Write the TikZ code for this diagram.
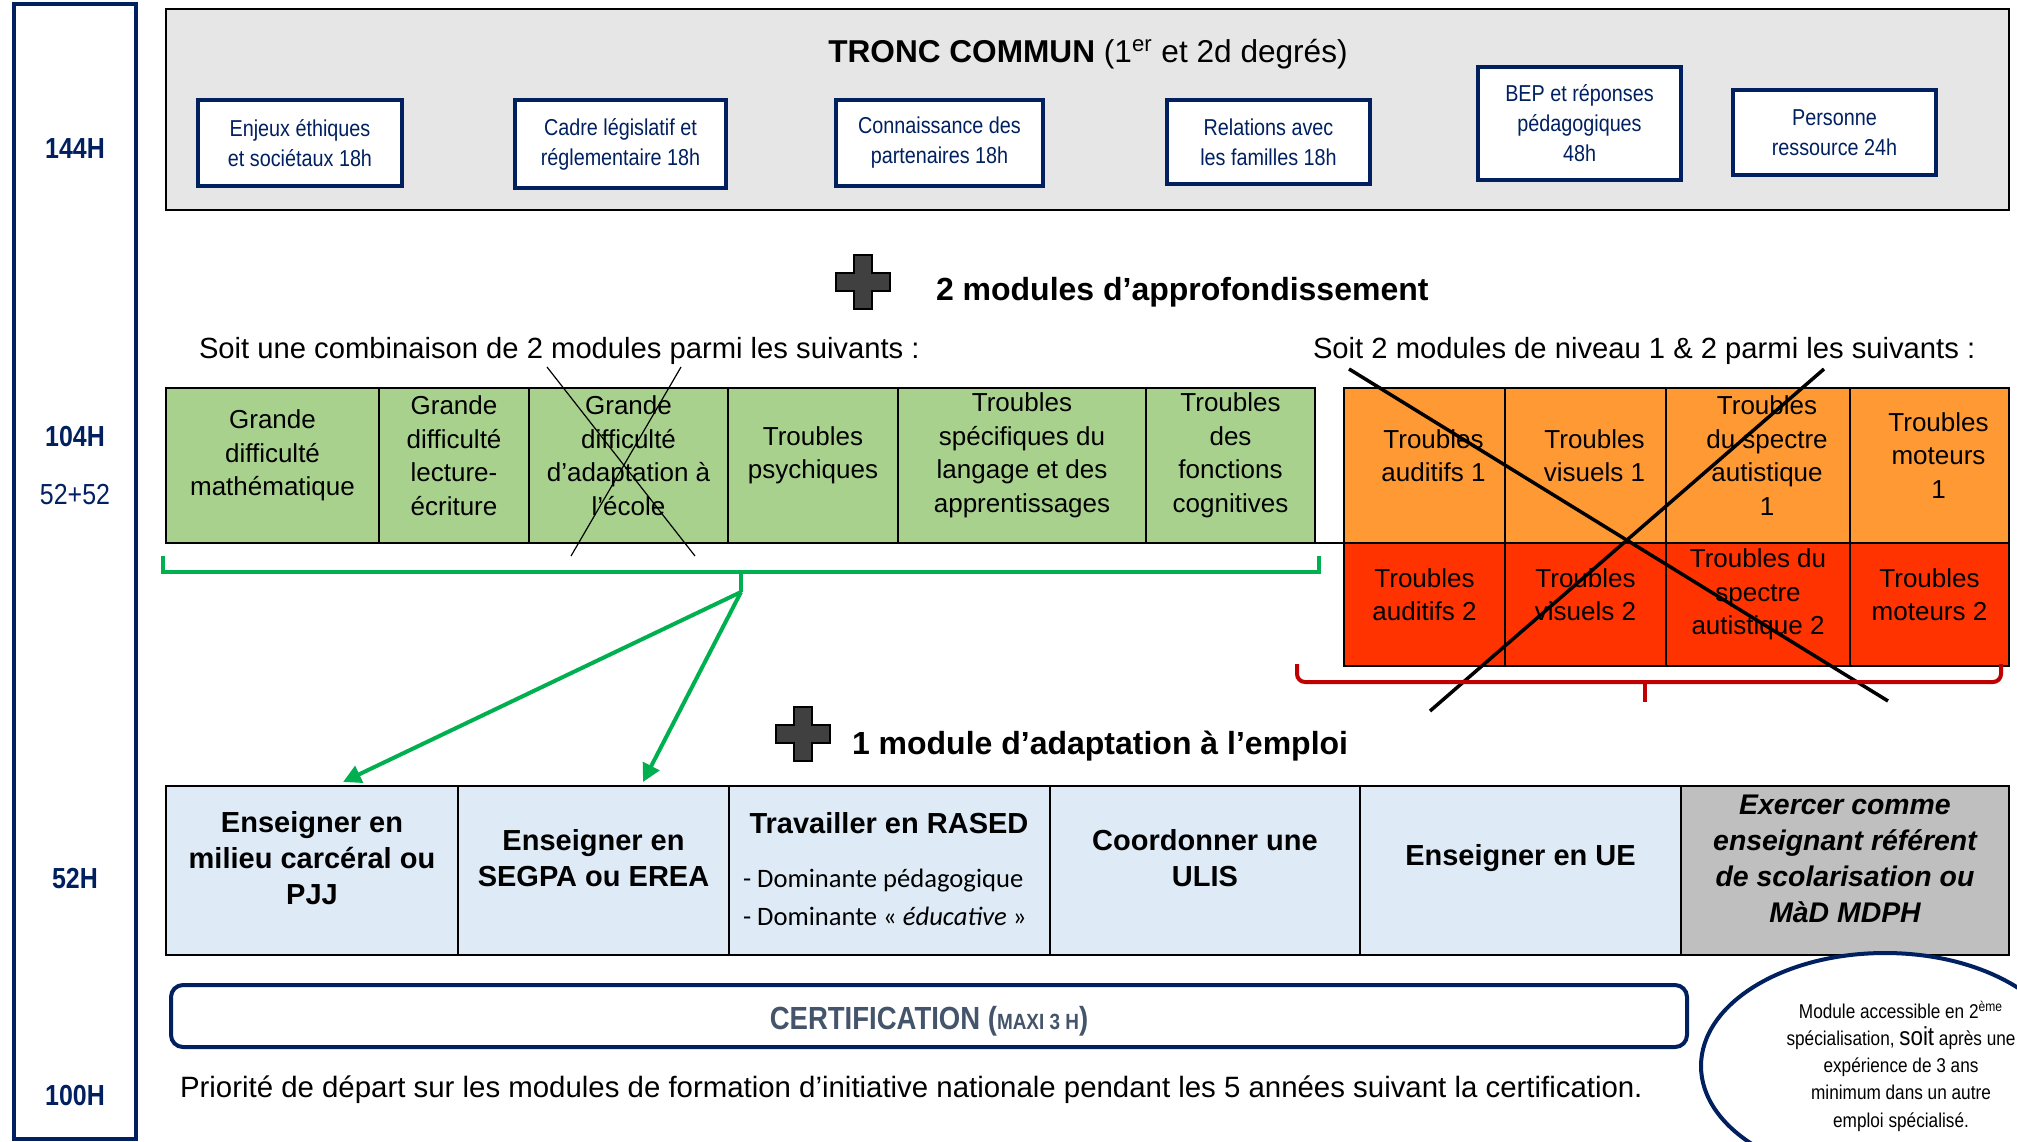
\documentclass[tikz,border=0pt]{standalone}
\usepackage{fontspec}
\setmainfont{Liberation Sans}
\newfontfamily\narrowf[FakeStretch=0.86]{Liberation Sans}
\newfontfamily\calib{Carlito}
\usetikzlibrary{arrows.meta,shapes.geometric}
\definecolor{navy}{RGB}{0,32,96}
\definecolor{tcgrey}{RGB}{230,230,230}
\definecolor{gfill}{RGB}{169,209,142}
\definecolor{ofill}{RGB}{255,153,51}
\definecolor{rfill}{RGB}{255,51,0}
\definecolor{gline}{RGB}{0,176,80}
\definecolor{dred}{RGB}{192,0,0}
\definecolor{bfill}{RGB}{222,235,247}
\definecolor{cgrey}{RGB}{191,191,191}
\definecolor{slate}{RGB}{68,84,106}
\definecolor{pgrey}{RGB}{64,64,64}
\newcommand\fsz[2]{\fontsize{#1}{#2}\selectfont}
% name x1 y1 x2 y2 styleprefix text dy dx
\newcommand\cell[9]{%
 \node[#6cell, minimum width={(#4-#2)*0.5pt}, minimum height={(#5-#3)*0.5pt}] (#1) at ({(#2+#4)/2},{(#3+#5)/2}) {};
 \node[#6text] (#1t) at ([yshift={-(#8)*0.5pt},xshift={(#9)*0.5pt}]#1.center) {#7};}
\tikzset{
 base/.style={inner sep=0pt, outer sep=0pt},
 topcell/.style={base, draw=navy, fill=white, line width=1.75pt},
 toptext/.style={base, align=center, text=navy, font=\narrowf\fsz{11.5pt}{15pt}},
 gcell/.style={base, draw=black, fill=gfill, line width=0.75pt},
 gtext/.style={base, align=center, font=\fsz{13pt}{16.75pt}},
 ocell/.style={base, draw=black, fill=ofill, line width=0.75pt},
 otext/.style={gtext},
 rcell/.style={base, draw=black, fill=rfill, line width=0.75pt},
 rtext/.style={gtext},
 bcell/.style={base, draw=black, fill=bfill, line width=0.75pt},
 btext/.style={base, align=center, font=\bfseries\fsz{14.5pt}{18pt}},
 kcell/.style={base, draw=black, fill=cgrey, line width=0.75pt},
 ktext/.style={base, align=center, font=\bfseries\itshape\fsz{14.2pt}{18pt}},
 hlabel/.style={base, text=navy, font=\narrowf\bfseries\fsz{14.5pt}{17pt}},
 plusshape/.style={fill=pgrey, draw=black, line width=0.8pt},
 greenline/.style={draw=gline, line width=2.25pt},
 garrow/.style={draw=gline, fill=gline, line width=2pt, -{Triangle[length=9pt,width=9pt]}},
 crossthin/.style={draw=black, line width=0.6pt},
 crossthick/.style={draw=black, line width=1.75pt},
}
\begin{document}
\begin{tikzpicture}[x=0.5pt,y=-0.5pt]
\useasboundingbox (0,0) rectangle (2017,1141);
\clip (0,0) rectangle (2017,1141);
\fill[white] (0,0) rectangle (2017,1141);

% left column
\node[base, draw=navy, line width=1.75pt, minimum width=61pt, minimum height=567.5pt] (leftcol) at (75,571.5) {};
\node[hlabel] (h144) at (75,149) {144H};
\node[hlabel] (h104) at (75,437) {104H};
\node[hlabel, font=\narrowf\fsz{14.5pt}{17pt}] (h5252) at (75,495) {52+52};
\node[hlabel] (h52) at (75,879) {52H};
\node[hlabel] (h100) at (75,1095) {100H};

% tronc commun
\node[base, draw=black, fill=tcgrey, line width=1.25pt, minimum width=921.5pt, minimum height=100.5pt] (tc) at (1087.5,109.5) {};
\node[base, font=\fsz{15.8pt}{18pt}] (tctitle) at (1088,54) {\textbf{TRONC COMMUN} (1\textsuperscript{er} et 2d degrés)};
\cell{t1}{198}{100}{402}{186}{top}{Enjeux éthiques\\et sociétaux 18h}{0}{0}
\cell{t2}{515}{100}{726}{188}{top}{Cadre législatif et\\réglementaire 18h}{0}{0}
\cell{t3}{836}{100}{1043}{186}{top}{Connaissance des\\partenaires 18h}{0}{0}
\cell{t4}{1167}{100}{1370}{184}{top}{Relations avec\\les familles 18h}{0}{0}
\cell{t5}{1478}{67}{1681}{180}{top}{BEP et réponses\\pédagogiques\\48h}{0}{0}
\cell{t6}{1733}{90}{1936}{175}{top}{Personne\\ressource 24h}{0}{0}

% plus 1 and heading
\draw[plusshape] (854,255) -- ++(18,0) -- ++(0,18) -- ++(18,0) -- ++(0,18) -- ++(-18,0) -- ++(0,18) -- ++(-18,0) -- ++(0,-18) -- ++(-18,0) -- ++(0,-18) -- ++(18,0) -- cycle;
\node[base, anchor=west, font=\bfseries\fsz{16pt}{19pt}] (h2) at (936,292) {2 modules d’approfondissement};
\node[base, anchor=west, font=\fsz{14.6pt}{17pt}] (soit1) at (199,351) {Soit une combinaison de 2 modules parmi les suivants :};
\node[base, anchor=west, font=\fsz{14.6pt}{17pt}] (soit2) at (1313,351) {Soit 2 modules de niveau 1 \& 2 parmi les suivants :};

% green table
\cell{g1}{166}{388}{379}{543}{g}{Grande\\difficulté\\mathématique}{-10}{0}
\cell{g2}{379}{388}{529}{543}{g}{Grande\\difficulté\\lecture-\\écriture}{-10}{0}
\cell{g3}{529}{388}{728}{543}{g}{Grande\\difficulté\\d’adaptation à\\l’école}{-10}{0}
\cell{g4}{728}{388}{898}{543}{g}{Troubles\\psychiques}{-10}{0}
\cell{g5}{898}{388}{1146}{543}{g}{Troubles\\spécifiques du\\langage et des\\apprentissages}{-10}{0}
\cell{g6}{1146}{388}{1315}{543}{g}{Troubles\\des\\fonctions\\cognitives}{-10}{0}
\draw[line width=1.25pt] (g1.north west) rectangle (g6.south east);
\draw[crossthin] (547,367) -- (695,556);
\draw[crossthin] (681,367) -- (571,556);

% orange / red table
\cell{o1}{1344}{388}{1505}{543}{o}{Troubles\\auditifs 1}{-10}{9}
\cell{o2}{1505}{388}{1666}{543}{o}{Troubles\\visuels 1}{-10}{9}
\cell{o3}{1666}{388}{1850}{543}{o}{Troubles\\du spectre\\autistique\\1}{-10}{9}
\cell{o4}{1850}{388}{2009}{543}{o}{Troubles\\moteurs\\1}{-10}{9}
\cell{r1}{1344}{543}{1505}{666}{r}{Troubles\\auditifs 2}{-10}{0}
\cell{r2}{1505}{543}{1666}{666}{r}{Troubles\\visuels 2}{-10}{0}
\cell{r3}{1666}{543}{1850}{666}{r}{Troubles du\\spectre\\autistique 2}{-10}{0}
\cell{r4}{1850}{543}{2009}{666}{r}{Troubles\\moteurs 2}{-10}{0}
\draw[line width=1.25pt] (o1.north west) rectangle (r4.south east);
\draw[line width=0.75pt] (g6.south east) -- (r1.north west);
\draw[crossthick] (1349,369) -- (1888,701);
\draw[crossthick] (1824,369) -- (1430,711);

% green bracket and arrows
\coordinate (gb1) at (163,556);
\coordinate (gb2) at (163,572);
\coordinate (gb3) at (1319,572);
\coordinate (gb4) at (1319,556);
\coordinate (gtop) at (741,572);
\coordinate (gtick) at (741,592);
\draw[greenline] (gb1) -- (gb2) -- (gb3) -- (gb4);
\draw[greenline] (gtop) -- (gtick);

% red bracket
\coordinate (rb1) at (1297,664);
\coordinate (rb2) at (1297,682);
\coordinate (rb3) at (2001,682);
\coordinate (rb4) at (2001,664);
\coordinate (rtop) at (1645,682);
\coordinate (rtick) at (1645,702);
\draw[dred, line width=2pt, rounded corners=4pt] (rb1) -- (rb2) -- (rb3) -- (rb4);
\draw[dred, line width=2pt] (rtop) -- (rtick);

% plus 2 and heading
\draw[plusshape] (794,707) -- ++(18,0) -- ++(0,18) -- ++(18,0) -- ++(0,18) -- ++(-18,0) -- ++(0,18) -- ++(-18,0) -- ++(0,-18) -- ++(-18,0) -- ++(0,-18) -- ++(18,0) -- cycle;
\node[base, anchor=west, font=\bfseries\fsz{16pt}{19pt}] (h3) at (852,746) {1 module d’adaptation à l’emploi};

% blue table
\cell{b1}{166}{786}{458}{955}{b}{Enseigner en\\milieu carcéral ou\\PJJ}{-12}{0}
\cell{b2}{458}{786}{729}{955}{b}{Enseigner en\\SEGPA ou EREA}{-12}{0}
\cell{b3}{729}{786}{1050}{955}{b}{}{0}{0}
\cell{b4}{1050}{786}{1360}{955}{b}{Coordonner une\\ULIS}{-12}{0}
\cell{b5}{1360}{786}{1681}{955}{b}{Enseigner en UE}{-12}{0}
\cell{b6}{1681}{786}{2009}{955}{k}{Exercer comme\\enseignant référent\\de scolarisation ou\\MàD MDPH}{-12}{0}
\draw[line width=1.25pt] (b1.north west) rectangle (b6.south east);
\node[base, font=\bfseries\fsz{14.5pt}{18pt}] (rased) at (889,823) {Travailler en RASED};
\node[base, anchor=west, font=\calib\fsz{13.3pt}{16pt}] (dom1) at (743,881) {- Dominante pédagogique};
\node[base, anchor=west, font=\calib\fsz{13.3pt}{16pt}] (dom2) at (743,916) {- Dominante «~\textit{éducative}~»};

\draw[garrow] (gtick) -- ([xshift=15.5pt,yshift=2pt]b1.north);
\draw[garrow] (gtick) -- ([xshift=24.75pt,yshift=2pt]b2.north);

% certification
\node[base, draw=navy, line width=2pt, rounded corners=6pt, fill=white, minimum width=758pt, minimum height=31pt] (cert) at (929,1016) {};
\node[base, text=slate, font=\narrowf\bfseries\fsz{16pt}{18pt}] (certt) at ([yshift=-2.5pt]cert.center)
 {CERTIFICATION (\fsz{11pt}{13pt}MAXI 3 H\fsz{16pt}{18pt})};
\node[base, anchor=west, font=\fsz{14.7pt}{17pt}] (prio) at (180,1090) {Priorité de départ sur les modules de formation d’initiative nationale pendant les 5 années suivant la certification.};

% ellipse
\node[base, ellipse, draw=navy, line width=2pt, fill=white, minimum width=184pt, minimum height=113pt] (ell) at (1885,1066) {};
\node[base, align=center, font=\narrowf\fsz{10pt}{13.6pt}] (ellt) at (1901,1066)
 {Module accessible en 2\textsuperscript{ème}\\spécialisation, {\fsz{13pt}{13.6pt}soit} après une\\expérience de 3 ans\\minimum dans un autre\\emploi spécialisé.};
\end{tikzpicture}
\end{document}
